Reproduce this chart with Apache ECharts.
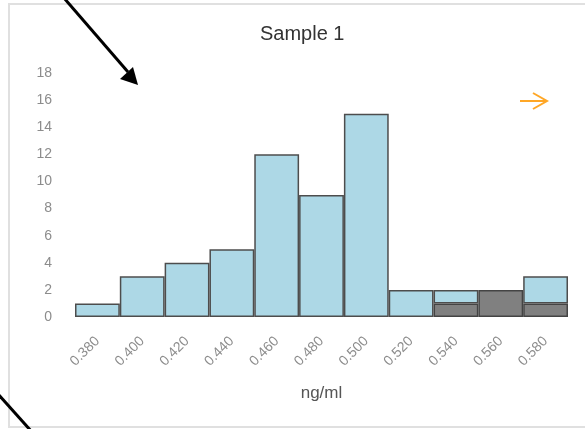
<!DOCTYPE html>
<html>
<head>
<meta charset="utf-8">
<script src="https://cdn.jsdelivr.net/npm/echarts@6/dist/echarts.min.js"></script>
<style>
html,body{margin:0;padding:0;background:#fff;}
#c{width:585px;height:429px;}
</style>
</head>
<body>
<div id="c"></div>
<script>
var categories = ['0.380','0.400','0.420','0.440','0.460','0.480','0.500','0.520','0.540','0.560','0.580'];
var greyCounts = [0,0,0,0,0,0,0,0,1,2,1];
var blueCounts = [1,3,4,5,12,9,15,2,1,0,2];
var yTicks = {min:0, max:18, interval:2};

function nz(a){ return a.map(function(v){ return v === 0 ? '-' : v; }); }

var chart = echarts.init(document.getElementById('c'), null, {renderer:'canvas'});
chart.setOption({
  animation:false,
  backgroundColor:'#fff',
  title:{
    text:'Sample 1', left:255, top:19,
    textStyle:{fontFamily:'Liberation Sans', fontSize:20, fontWeight:'normal', color:'#333'}
  },
  grid:{left:75, right:17, top:73, bottom:112, containLabel:false},
  xAxis:{
    type:'category', data:categories,
    axisLine:{show:false}, axisTick:{show:false},
    axisLabel:{rotate:45, margin:22, color:'#8c8c8c', fontFamily:'Liberation Sans', fontSize:14, interval:0},
    name:'ng/ml', nameLocation:'middle', nameGap:68,
    nameTextStyle:{fontFamily:'Liberation Sans', fontSize:17, color:'#555'}
  },
  yAxis:{
    type:'value', min:yTicks.min, max:yTicks.max, interval:yTicks.interval,
    axisLine:{show:false}, axisTick:{show:false}, splitLine:{show:false},
    axisLabel:{margin:23, color:'#8c8c8c', fontFamily:'Liberation Sans', fontSize:14}
  },
  series:[
    {type:'bar', stack:'s', data:nz(greyCounts), barCategoryGap:'0%',
     itemStyle:{color:'#808080', borderColor:'#444', borderWidth:1.5}},
    {type:'bar', stack:'s', data:nz(blueCounts), barCategoryGap:'0%',
     itemStyle:{color:'#ADD8E6', borderColor:'#4d4d4d', borderWidth:1.5}}
  ],
  graphic:[
    {type:'rect', shape:{x:9, y:4, width:600, height:423}, style:{fill:null, stroke:'#e0e0e0', lineWidth:2}, silent:true, z:-1},
    {type:'line', shape:{x1:64, y1:-2, x2:128, y2:72}, style:{stroke:'#000', lineWidth:3}},
    {type:'polygon', shape:{points:[[138,85],[120,79],[133,67]]}, style:{fill:'#000'}},
    {type:'line', shape:{x1:-2, y1:394, x2:32, y2:432}, style:{stroke:'#000', lineWidth:3}},
    {type:'line', shape:{x1:520, y1:101, x2:546, y2:101}, style:{stroke:'#FFA726', lineWidth:2}},
    {type:'polyline', shape:{points:[[533,93],[547,101],[533,109]]}, style:{stroke:'#FFA726', lineWidth:2, fill:null}}
  ]
});
</script>
</body>
</html>
